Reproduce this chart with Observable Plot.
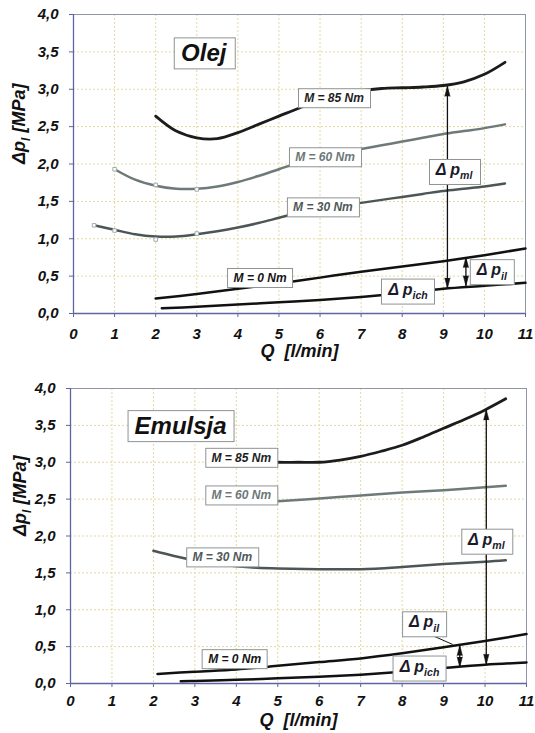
<!DOCTYPE html>
<html><head><meta charset="utf-8">
<script src="https://cdn.jsdelivr.net/npm/d3@7"></script>
<script src="https://cdn.jsdelivr.net/npm/@observablehq/plot@0.6"></script>
<style>
body{margin:0;background:#fff;}
#c{width:535px;}
#c svg{display:block;}
</style></head><body><div id="c"></div>
<script>
// ---- shared ticks ----
const xTicks = [0,1,2,3,4,5,6,7,8,9,10,11];
const yTicks = [0,0.5,1,1.5,2,2.5,3,3.5,4];

// ---- Olej (oil) : [Q l/min, Δp MPa] ----
const olejM85 = [[2,2.64],[2.5,2.44],[3,2.35],[3.5,2.34],[4,2.42],[4.5,2.53],[5,2.64],[5.5,2.75],[6,2.85],[6.5,2.93],[7,2.98],[7.5,3.01],[8,3.02],[8.5,3.03],[9,3.05],[9.5,3.1],[10,3.2],[10.5,3.36]];
const olejM60 = [[1,1.93],[1.5,1.79],[2,1.71],[2.5,1.67],[3,1.67],[3.5,1.7],[4,1.76],[4.5,1.84],[5,1.93],[5.5,2.02],[6,2.09],[6.5,2.15],[7,2.2],[7.5,2.25],[8,2.3],[8.5,2.35],[9,2.4],[9.5,2.44],[10,2.48],[10.5,2.53]];
const olejM30 = [[0.5,1.18],[1,1.12],[1.5,1.06],[2,1.03],[2.5,1.03],[3,1.06],[3.5,1.1],[4,1.15],[4.5,1.21],[5,1.28],[5.5,1.35],[6,1.4],[6.5,1.44],[7,1.48],[7.5,1.52],[8,1.56],[8.5,1.6],[9,1.64],[9.5,1.67],[10,1.7],[10.5,1.74]];
const olejM0 = [[2,0.2],[3,0.26],[4,0.33],[5,0.4],[6,0.48],[7,0.56],[8,0.63],[9,0.7],[10,0.78],[11,0.87]];
const olejIch = [[2.15,0.07],[3,0.09],[4,0.12],[5,0.15],[6,0.18],[7,0.22],[8,0.27],[9,0.33],[10,0.37],[11,0.41]];
const olejPoints60 = [[1,1.93],[2,1.72],[3,1.66]];
const olejPoints30 = [[0.5,1.18],[1,1.11],[2,0.99],[3,1.07]];
const olejArrows = [{q:9.1, top:3.04, bottom:0.34},{q:9.55, top:0.75, bottom:0.37}];
const olejMLabels = [{q:6.34,p:2.88,text:"M = 85 Nm"},{q:6.12,p:2.09,text:"M = 60 Nm"},{q:6.07,p:1.42,text:"M = 30 Nm"},{q:4.54,p:0.475,text:"M = 0 Nm"}];
const olejDLabels = [{q:9.26,p:1.92,text:"Δ p_{ml}"},{q:10.18,p:0.58,text:"Δ p_{il}"},{q:8.14,p:0.32,text:"Δ p_{ich}"}];
const olejTitle = [{q:3.17,p:3.48,text:"Olej"}];

// ---- Emulsja (emulsion) ----
const emuM85 = [[4.5,3.01],[5,3.0],[5.5,3.0],[6,3.0],[6.5,3.03],[7,3.08],[7.5,3.15],[8,3.23],[8.5,3.34],[9,3.46],[9.5,3.58],[10,3.71],[10.5,3.86]];
const emuM60 = [[4.5,2.45],[5,2.47],[6,2.51],[7,2.55],[8,2.59],[9,2.62],[10,2.66],[10.5,2.68]];
const emuM30 = [[2,1.8],[2.5,1.73],[3,1.67],[3.5,1.62],[4,1.59],[4.5,1.57],[5,1.56],[6,1.55],[7,1.55],[8,1.58],[9,1.62],[10,1.65],[10.5,1.67]];
const emuM0 = [[2.1,0.13],[3,0.16],[4,0.19],[5,0.24],[6,0.29],[7,0.34],[8,0.41],[9,0.49],[10,0.575],[11,0.67]];
const emuIch = [[2.66,0.03],[3,0.035],[4,0.05],[5,0.07],[6,0.09],[7,0.12],[8,0.16],[9,0.21],[10,0.255],[11,0.285]];
const emuArrows = [{q:10.03, top:3.71, bottom:0.26},{q:9.39, top:0.515, bottom:0.225}];
const emuMLabels = [{q:4.12,p:3.06,text:"M = 85 Nm"},{q:4.12,p:2.55,text:"M = 60 Nm"},{q:3.66,p:1.71,text:"M = 30 Nm"},{q:3.96,p:0.33,text:"M = 0 Nm"}];
const emuDLabels = [{q:10.03,p:1.95,text:"Δ p_{ml}"},{q:8.53,p:0.83,text:"Δ p_{il}"},{q:8.42,p:0.23,text:"Δ p_{ich}"}];
const emuTitle = [{q:2.655,p:3.49,text:"Emulsja"}];
const emuLeader = [{q1:8.62,p1:0.678,q2:9.22,p2:0.529}];

// ---- styles ----
const lineColor = {M85:"#1c1c1c", M60:"#6e7a7a", M30:"#4c5656", M0:"#111111", ich:"#111111"};
const labelColor = {"M = 85 Nm":"#1e1e1e","M = 60 Nm":"#6c7878","M = 30 Nm":"#4f5959","M = 0 Nm":"#151515"};
const FONT = "'Liberation Sans', Arial, sans-serif";
const GRID = "#e2d9a0";
const AXIS = "#5d66a0";
const ns = "http://www.w3.org/2000/svg";

function toRows(series) {
  return series.flatMap(([key, pts]) => pts.map(([q, p]) => ({key, q, p})));
}

function panel(cfg) {
  const rows = toRows(cfg.series);
  const pts = toRows(cfg.points);
  const svg = Plot.plot({
    width: 535, height: cfg.height,
    marginTop: cfg.mt, marginBottom: cfg.mb, marginLeft: cfg.ml, marginRight: cfg.mr,
    x: {domain: [0, 11]},
    y: {domain: [0, 4]},
    color: {type: "identity"},
    style: {fontFamily: FONT, fontWeight: "bold", fontStyle: "italic", fontSize: "15px", background: "#fff", color: "#111", overflow: "visible"},
    marks: [
      Plot.gridX({ticks: xTicks, stroke: GRID, strokeOpacity: 1, strokeDasharray: "2,2"}),
      Plot.gridY({ticks: yTicks, stroke: GRID, strokeOpacity: 1, strokeDasharray: "2,2"}),
      Plot.frame({stroke: "#9096aa"}),
      Plot.axisX({ticks: xTicks, tickFormat: d => String(d), tickSize: 4, tickPadding: cfg.xPad, label: null, stroke: AXIS, fill: "#111"}),
      Plot.axisY({ticks: yTicks, tickFormat: d => d.toFixed(1).replace(".", ","), tickSize: 4, tickPadding: 11, label: null, stroke: AXIS, fill: "#111"}),
      Plot.ruleY([0], {stroke: AXIS, strokeWidth: 1.3}),
      Plot.ruleX([0], {stroke: AXIS, strokeWidth: 1.3}),
      Plot.line(rows, {x: "q", y: "p", z: "key", stroke: d => lineColor[d.key], strokeWidth: d => d.key === "M85" ? 2.8 : 2.5, curve: "catmull-rom"}),
      Plot.dot(pts, {x: "q", y: "p", symbol: "square", r: 2, stroke: "#a5acac", fill: "#fff", strokeWidth: 1}),
      Plot.link(cfg.arrows, {x1: "q", x2: "q", y1: "top", y2: "bottom", stroke: "#111", strokeWidth: 1.3}),
      Plot.vector(cfg.arrows, {x: "q", y: "top", length: 10, rotate: 0, anchor: "end", shape: "spike", r: 2.6, fill: "#111", stroke: "#111", strokeWidth: 0.6}),
      Plot.vector(cfg.arrows, {x: "q", y: "bottom", length: 10, rotate: 180, anchor: "end", shape: "spike", r: 2.6, fill: "#111", stroke: "#111", strokeWidth: 0.6}),
      Plot.link(cfg.leaders, {x1: "q1", y1: "p1", x2: "q2", y2: "p2", stroke: "#111", strokeWidth: 1}),
      Plot.text(cfg.mLabels, {x: "q", y: "p", text: "text", fill: d => labelColor[d.text], fontSize: 12}),
      Plot.text(cfg.dLabels, {x: "q", y: "p", text: "text", fill: "#1a1a2a", fontSize: 16}),
      Plot.text(cfg.title, {x: "q", y: "p", text: "text", fill: "#111", fontSize: cfg.titleSize}),
      Plot.text(["Δp_{l}\u00a0[MPa]"], {text: d => d, frameAnchor: "left", dx: cfg.ylabDx, rotate: -90, fontSize: 18, fill: "#111"}),
      Plot.text(["Q\u00a0\u00a0[l/min]"], {text: d => d, frameAnchor: "bottom", dy: cfg.xlabDy, fontSize: 18, fill: "#111"})
    ]
  });
  document.getElementById("c").appendChild(svg);
  const boxed = new Set([...cfg.mLabels, ...cfg.dLabels, ...cfg.title].map(d => d.text));
  const titles = new Set(cfg.title.map(d => d.text));
  const texts = Array.from(svg.querySelectorAll("text"));
  const boxEls = texts.filter(t => boxed.has(t.textContent)).map(t => [t, titles.has(t.textContent)]);
  texts.forEach(t => {
    const s = t.textContent;
    if (!s.includes("_{")) return;
    const parts = s.split(/_\{([^}]*)\}/);
    t.textContent = "";
    let afterSub = false;
    parts.forEach((p, i) => {
      if (!p) return;
      const ts = document.createElementNS(ns, "tspan");
      ts.textContent = p;
      if (i % 2 === 1) {
        ts.setAttribute("font-size", "66%");
        ts.setAttribute("dy", "0.4em");
        afterSub = true;
      } else if (afterSub) {
        ts.setAttribute("dy", "-0.264em");
        afterSub = false;
      }
      t.appendChild(ts);
    });
  });
  boxEls.forEach(([t, big]) => {
    const b = t.getBBox();
    const px = big ? 7 : 6, py = big ? 2 : 2.5;
    const r = document.createElementNS(ns, "rect");
    r.setAttribute("x", Math.round(b.x - px) + 0.5);
    r.setAttribute("y", Math.round(b.y - py) + 0.5);
    r.setAttribute("width", Math.round(b.width + 2 * px));
    r.setAttribute("height", Math.round(b.height + 2 * py));
    r.setAttribute("fill", "#fff");
    r.setAttribute("stroke", "#8e9494");
    r.setAttribute("stroke-width", "1");
    if (t.getAttribute("transform")) r.setAttribute("transform", t.getAttribute("transform"));
    t.parentNode.insertBefore(r, t);
  });
}

panel({
  height: 366, mt: 14, mb: 53, ml: 73, mr: 10, xPad: 11,
  series: [["M85", olejM85], ["M60", olejM60], ["M30", olejM30], ["M0", olejM0], ["ich", olejIch]],
  points: [["M60", olejPoints60], ["M30", olejPoints30]],
  arrows: olejArrows, leaders: [],
  mLabels: olejMLabels, dLabels: olejDLabels, title: olejTitle, titleSize: 24,
  ylabDx: -54, xlabDy: 43
});
panel({
  height: 367, mt: 22, mb: 50, ml: 70, mr: 9, xPad: 8,
  series: [["M85", emuM85], ["M60", emuM60], ["M30", emuM30], ["M0", emuM0], ["ich", emuIch]],
  points: [],
  arrows: emuArrows, leaders: emuLeader,
  mLabels: emuMLabels, dLabels: emuDLabels, title: emuTitle, titleSize: 24,
  ylabDx: -50.5, xlabDy: 42
});
</script>
</body></html>
